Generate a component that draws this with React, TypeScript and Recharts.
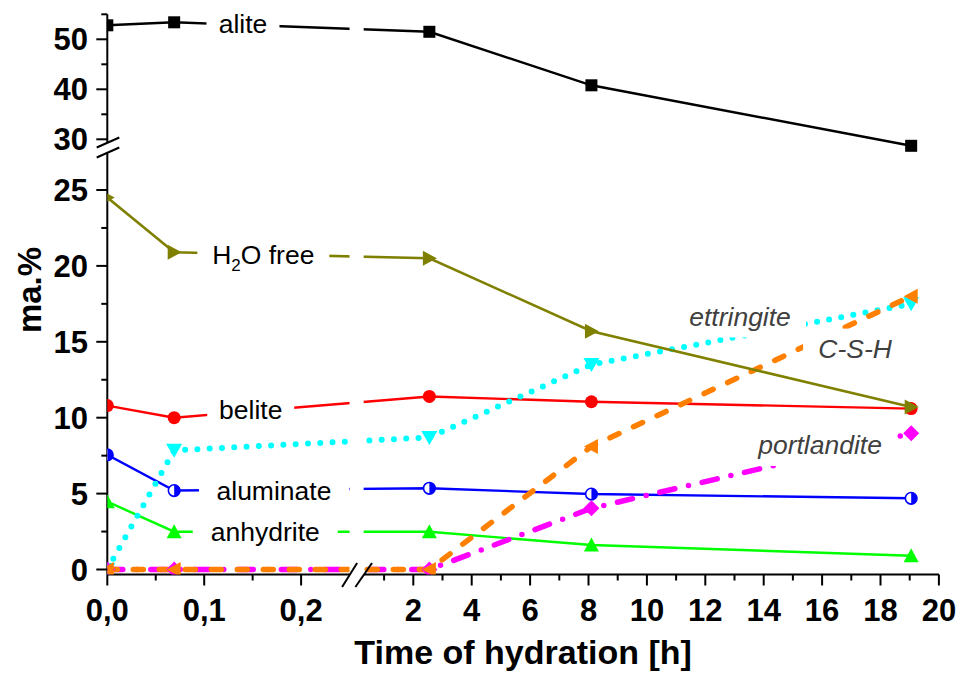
import React from 'react';
import { ComposedChart, Line, XAxis, YAxis, ReferenceArea, ReferenceDot } from 'recharts';

// Sampling times [h]
const hours = [0, 0.069, 2.55, 8.1, 19.05];

// Phase contents [ma.%]
const alite = [52.8, 53.4, 51.5, 40.8, 28.7];
const h2oFree = [24.5, 20.9, 20.5, 15.7, 10.7];
const belite = [10.8, 10.0, 11.4, 11.05, 10.6];
const ettringite = [0, 7.85, 8.7, 13.5, 17.5];
const aluminate = [7.55, 5.2, 5.35, 4.97, 4.69];
const anhydrite = [4.47, 2.49, 2.49, 1.61, 0.91];
const csh = [0, 0, 0, 8.1, 18.0];
const portlandite = [0, 0, 0, 4.03, 8.97];

// Axis ticks
const xMajorTicks = [0, 0.1, 0.2, 2, 4, 6, 8, 10, 12, 14, 16, 18, 20];
const xMinorTicks = [0.05, 0.15, 1, 3, 5, 7, 9, 11, 13, 15, 17, 19];
const yMajorTicks = [0, 5, 10, 15, 20, 25, 30, 40, 50];
const yMinorTicks = [2.5, 7.5, 12.5, 17.5, 22.5, 35, 45, 55];

const FONT = "'Liberation Sans', Arial, Helvetica, sans-serif";

// Layout
const CHART_W = 958;
const CHART_H = 688;
const MARGIN = { top: 14.3, right: 19.1, bottom: 0, left: 0 };
const Y_AXIS_W = 107.3;
const X_AXIS_H = 113.5;
const PLOT_LEFT = MARGIN.left + Y_AXIS_W;
const PLOT_RIGHT = CHART_W - MARGIN.right;
const PLOT_TOP = MARGIN.top;
const PLOT_BOTTOM = CHART_H - MARGIN.bottom - X_AXIS_H;

// Broken time axis: 0–0.25 h stretched, then 0.3–20 h
const X_EARLY_END = 0.25;
const X_EARLY_SCALE = 969;
const X_LATE_FROM = 0.3;
const X_LATE_OFFSET = 306;
const X_LATE_SCALE = 29.2;
const toU = (t: number) =>
  t <= X_EARLY_END ? t * X_EARLY_SCALE : X_LATE_OFFSET + (t - 2) * X_LATE_SCALE;
const X_MAX = toU(20);
const X_GAP = [X_EARLY_END * X_EARLY_SCALE, toU(X_LATE_FROM)];

// Broken content axis: 0–25 below the break, 28–55 above
const toW = (v: number) => (v <= 27 ? 5 + v * 15.18 : 435.2 + (v - 30) * 5);
const Y_MAX = toW(55);

const fmtHour = (t: number) => (t < 1 ? t.toFixed(1).replace('.', ',') : String(t));

const rows = hours.map((t, i) => ({
  u: toU(t),
  alite: toW(alite[i]),
  h2oFree: toW(h2oFree[i]),
  belite: toW(belite[i]),
  ettringite: toW(ettringite[i]),
  aluminate: toW(aluminate[i]),
  anhydrite: toW(anhydrite[i]),
  csh: toW(csh[i]),
  portlandite: toW(portlandite[i]),
}));

type MarkerKind = 'square' | 'circle' | 'half' | 'up' | 'down' | 'left' | 'right' | 'diamond';

const MarkerShape = ({ kind, color, cx, cy }: { kind: MarkerKind; color: string; cx: number; cy: number }) => {
  switch (kind) {
    case 'square':
      return <rect x={cx - 6} y={cy - 6} width={12} height={12} fill={color} />;
    case 'circle':
      return <circle cx={cx} cy={cy} r={6.5} fill={color} />;
    case 'half':
      return (
        <g>
          <circle cx={cx} cy={cy} r={5.8} fill="#fff" stroke={color} strokeWidth={1.6} />
          <path d={`M${cx},${cy - 5.8} A5.8,5.8 0 0 1 ${cx},${cy + 5.8} Z`} fill={color} />
        </g>
      );
    case 'up':
      return <polygon points={`${cx - 7.5},${cy + 6.5} ${cx},${cy - 7.5} ${cx + 7.5},${cy + 6.5}`} fill={color} />;
    case 'down':
      return <polygon points={`${cx - 8},${cy - 6.5} ${cx + 8},${cy - 6.5} ${cx},${cy + 7.5}`} fill={color} />;
    case 'left':
      return <polygon points={`${cx + 6.5},${cy - 7.5} ${cx - 7.5},${cy} ${cx + 6.5},${cy + 7.5}`} fill={color} />;
    case 'right':
      return <polygon points={`${cx - 6.5},${cy - 7.5} ${cx + 7.5},${cy} ${cx - 6.5},${cy + 7.5}`} fill={color} />;
    case 'diamond':
      return <polygon points={`${cx},${cy - 8} ${cx + 8},${cy} ${cx},${cy + 8} ${cx - 8},${cy}`} fill={color} />;
    default:
      return null;
  }
};

// Markers are clipped to the plot frame, like the lines
const Marker = (props: { kind: MarkerKind; color: string; cx: number; cy: number }) => {
  if (props.cx == null || props.cy == null) return null;
  return (
    <g clipPath="url(#plot-frame-clip)">
      <MarkerShape {...props} />
    </g>
  );
};

// Drawing order: last entry on top
const SERIES: { key: string; color: string; width: number; dash?: string; marker: MarkerKind }[] = [
  { key: 'alite', color: '#000000', width: 2.4, marker: 'square' },
  { key: 'belite', color: '#FF0000', width: 2.4, marker: 'circle' },
  { key: 'aluminate', color: '#0000FF', width: 2.4, marker: 'half' },
  { key: 'anhydrite', color: '#00FF00', width: 2.4, marker: 'up' },
  { key: 'ettringite', color: '#00FFFF', width: 6, dash: '0 12.3', marker: 'down' },
  { key: 'portlandite', color: '#FF00FF', width: 5.5, dash: '15.5 14 0 14', marker: 'diamond' },
  { key: 'csh', color: '#FF8000', width: 5.5, dash: '10 16', marker: 'left' },
  { key: 'h2oFree', color: '#808000', width: 2.6, marker: 'right' },
];

type Part = { s: string; sub?: boolean };
const SERIES_LABELS: { parts: Part[]; t: number; v: number; w: number; h: number; italic?: boolean }[] = [
  { parts: [{ s: 'alite' }], t: 0.14, v: 53.2, w: 73, h: 24 },
  { parts: [{ s: 'H' }, { s: '2', sub: true }, { s: 'O free' }], t: 0.161, v: 20.78, w: 132, h: 26 },
  { parts: [{ s: 'belite' }], t: 0.148, v: 10.53, w: 87, h: 26 },
  { parts: [{ s: 'aluminate' }], t: 0.172, v: 5.18, w: 150, h: 26 },
  { parts: [{ s: 'anhydrite' }], t: 0.163, v: 2.52, w: 145, h: 26 },
  { parts: [{ s: 'ettringite' }], t: 13.19, v: 16.67, w: 132, h: 42, italic: true },
  { parts: [{ s: 'C-S-H' }], t: 17.13, v: 14.55, w: 104, h: 40, italic: true },
  { parts: [{ s: 'portlandite' }], t: 15.93, v: 8.27, w: 154, h: 44, italic: true },
];

const LABEL_SIZE = 26.5;

const labelShape = (lab: (typeof SERIES_LABELS)[number]) => (p: any) => {
  const { cx, cy } = p;
  return (
    <g>
      <rect x={cx - lab.w / 2} y={cy - lab.h / 2} width={lab.w} height={lab.h} fill="#fff" />
      <text
        x={cx}
        y={cy + 0.36 * LABEL_SIZE}
        textAnchor="middle"
        fontFamily={FONT}
        fontSize={LABEL_SIZE}
        fontStyle={lab.italic ? 'italic' : 'normal'}
        fill={lab.italic ? '#404040' : '#000'}
      >
        {lab.parts.map((pt, i) => {
          const prevSub = i > 0 && lab.parts[i - 1].sub;
          return (
            <tspan key={i} fontSize={pt.sub ? 17 : LABEL_SIZE} dy={pt.sub ? 7 : prevSub ? -7 : 0}>
              {pt.s}
            </tspan>
          );
        })}
      </text>
    </g>
  );
};

const XTick = (props: any) => {
  const { x, y, payload } = props;
  const major = xMajorTicks.find((t) => Math.abs(toU(t) - payload.value) < 1e-6);
  const len = major !== undefined ? 11 : 6;
  return (
    <g>
      <line x1={x} y1={y} x2={x} y2={y + len} stroke="#000" strokeWidth={2} />
      {major !== undefined && (
        <text x={x} y={y + 46} textAnchor="middle" fontFamily={FONT} fontWeight="bold" fontSize={31} fill="#000">
          {fmtHour(major)}
        </text>
      )}
    </g>
  );
};

const YTick = (props: any) => {
  const { x, y, payload } = props;
  const major = yMajorTicks.find((v) => Math.abs(toW(v) - payload.value) < 1e-6);
  const len = major !== undefined ? 11 : 6;
  return (
    <g>
      <line x1={x - len} y1={y} x2={x} y2={y} stroke="#000" strokeWidth={2} />
      {major !== undefined && (
        <text x={x - 19.3} y={y + 11} textAnchor="end" fontFamily={FONT} fontWeight="bold" fontSize={31} fill="#000">
          {major}
        </text>
      )}
    </g>
  );
};

// Break marks on the two axes
const xBreakShape = (p: any) => {
  const { cx, cy } = p;
  return (
    <g>
      <rect x={cx - 7} y={cy - 3} width={14.2} height={6} fill="#fff" />
      <line x1={cx - 14.5} y1={cy + 12.5} x2={cx + 0.5} y2={cy - 11.5} stroke="#000" strokeWidth={2} />
      <line x1={cx - 1.2} y1={cy + 12.5} x2={cx + 15.4} y2={cy - 11.5} stroke="#000" strokeWidth={2} />
    </g>
  );
};

const yBreakShape = (p: any) => {
  const { cx, cy } = p;
  return (
    <g>
      <rect x={cx - 3} y={cy - 5} width={6} height={10} fill="#fff" />
      <line x1={cx - 10.6} y1={cy - 0.3} x2={cx + 12} y2={cy - 10.3} stroke="#000" strokeWidth={2} />
      <line x1={cx - 10.6} y1={cy + 9.7} x2={cx + 12} y2={cy - 0.3} stroke="#000" strokeWidth={2} />
    </g>
  );
};

// Clip region shared by the markers
const frameClipShape = () => (
  <defs>
    <clipPath id="plot-frame-clip">
      <rect x={PLOT_LEFT} y={PLOT_TOP} width={PLOT_RIGHT - PLOT_LEFT} height={PLOT_BOTTOM - PLOT_TOP} />
    </clipPath>
  </defs>
);

const xTickValues = [...xMajorTicks, ...xMinorTicks].map(toU).sort((a, b) => a - b);
const yTickValues = [...yMajorTicks, ...yMinorTicks].map(toW).sort((a, b) => a - b);

export default function App() {
  return (
    <div style={{ width: CHART_W, height: CHART_H, background: '#fff' }}>
      <style>{'html,body{margin:0;padding:0;background:#fff;overflow:hidden}'}</style>
      <ComposedChart width={CHART_W} height={CHART_H} data={rows} margin={MARGIN}>
        <XAxis
          dataKey="u"
          type="number"
          domain={[0, X_MAX]}
          allowDataOverflow
          ticks={xTickValues}
          interval={0}
          tickSize={0}
          tickMargin={0}
          tickLine={false}
          tick={<XTick />}
          axisLine={{ stroke: '#000', strokeWidth: 2 }}
          height={X_AXIS_H}
          label={{
            content: () => (
              <text
                x={(PLOT_LEFT + PLOT_RIGHT) / 2}
                y={664}
                textAnchor="middle"
                fontFamily={FONT}
                fontWeight="bold"
                fontSize={34}
                fill="#000"
              >
                Time of hydration [h]
              </text>
            ),
          }}
        />
        <YAxis
          type="number"
          domain={[0, Y_MAX]}
          allowDataOverflow
          ticks={yTickValues}
          interval={0}
          tickSize={0}
          tickMargin={0}
          tickLine={false}
          tick={<YTick />}
          axisLine={{ stroke: '#000', strokeWidth: 2 }}
          width={Y_AXIS_W}
          label={{
            content: () => (
              <text
                x={29}
                y={290}
                transform="rotate(-90 29 290)"
                textAnchor="middle"
                dominantBaseline="central"
                fontFamily={FONT}
                fontWeight="bold"
                fontSize={33}
                fill="#000"
              >
                ma.%
              </text>
            ),
          }}
        />
        <ReferenceDot x={0} y={0} r={0} ifOverflow="visible" shape={frameClipShape} />
        {SERIES.map((s) => (
          <Line
            key={s.key}
            type="linear"
            dataKey={s.key}
            stroke={s.color}
            strokeWidth={s.width}
            strokeDasharray={s.dash}
            strokeLinecap={s.dash ? 'round' : 'butt'}
            isAnimationActive={false}
            activeDot={false}
            dot={(p: any) => <Marker key={`${s.key}-${p.index}`} kind={s.marker} color={s.color} cx={p.cx} cy={p.cy} />}
          />
        ))}
        <ReferenceArea
          x1={X_GAP[0]}
          x2={X_GAP[1]}
          y1={0}
          y2={Y_MAX}
          fill="#fff"
          fillOpacity={1}
          stroke="none"
          ifOverflow="visible"
          zIndex={450}
        />
        {SERIES_LABELS.map((lab, i) => (
          <ReferenceDot
            key={`lab-${i}`}
            x={toU(lab.t)}
            y={toW(lab.v)}
            r={0}
            ifOverflow="visible"
            shape={labelShape(lab)}
            zIndex={460}
          />
        ))}
        <ReferenceDot
          x={(X_GAP[0] + X_GAP[1]) / 2}
          y={0}
          r={0}
          ifOverflow="visible"
          shape={xBreakShape}
          zIndex={2100}
        />
        <ReferenceDot x={0} y={toW(28.3)} r={0} ifOverflow="visible" shape={yBreakShape} zIndex={2100} />
      </ComposedChart>
    </div>
  );
}
